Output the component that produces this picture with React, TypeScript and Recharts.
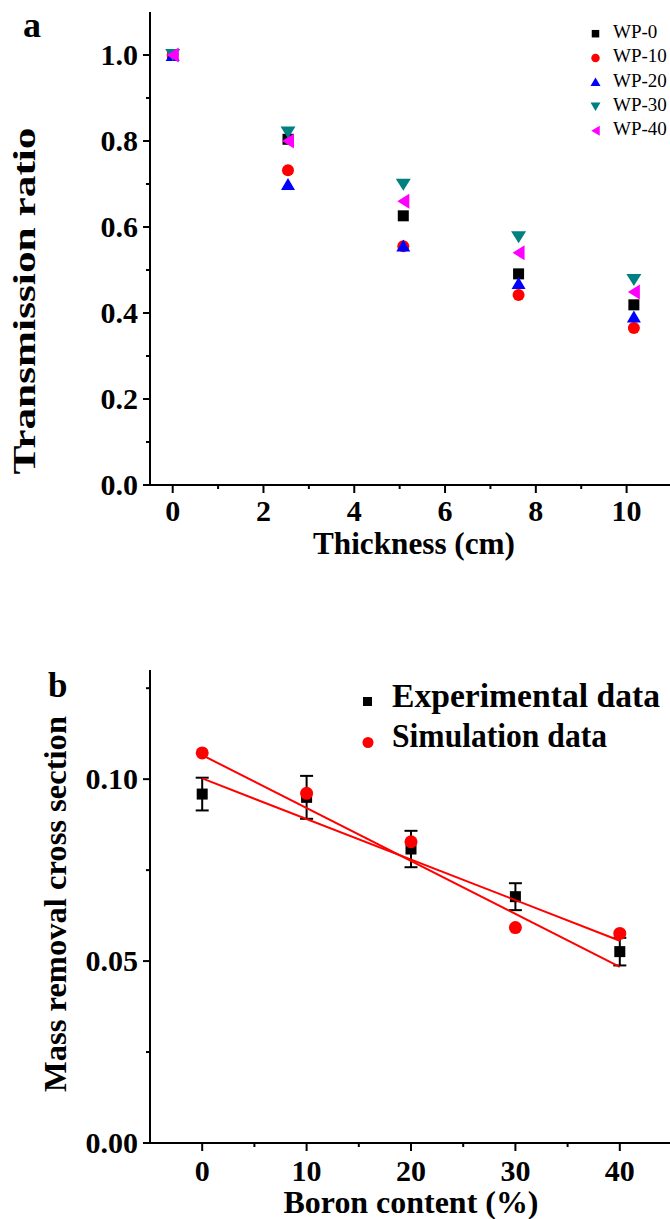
import React from 'react';
import { ComposedChart, Scatter, XAxis, YAxis, ErrorBar } from 'recharts';

// ---------- Panel a data ----------
const thickness = [0, 2.54, 5.08, 7.62, 10.16];
const wp0 = [1.0, 0.804, 0.626, 0.491, 0.419];
const wp10 = [1.0, 0.732, 0.555, 0.442, 0.365];
const wp20 = [1.0, 0.7, 0.557, 0.47, 0.392];
const wp30 = [1.0, 0.82, 0.698, 0.576, 0.477];
const wp40 = [1.0, 0.8, 0.66, 0.54, 0.449];
const seriesNamesA = ['WP-0', 'WP-10', 'WP-20', 'WP-30', 'WP-40'];

const xTicksA = [0, 1, 2, 3, 4, 5, 6, 7, 8, 9, 10];
const xMajorA = [0, 2, 4, 6, 8, 10];
const yTicksA = [0, 0.1, 0.2, 0.3, 0.4, 0.5, 0.6, 0.7, 0.8, 0.9, 1.0];
const yMajorA = [0, 0.2, 0.4, 0.6, 0.8, 1.0];

// ---------- Panel b data ----------
const boron = [0, 10, 20, 30, 40];
const expValues = [0.0959, 0.095, 0.0808, 0.0677, 0.0526];
const expErrors = [0.0045, 0.0059, 0.005, 0.0037, 0.0038];
const simValues = [0.1072, 0.0961, 0.0828, 0.0592, 0.0576];
const fitX = [0, 40];
const expFit = [0.1002, 0.0556];
const simFit = [0.1066, 0.0484];
const seriesNamesB = ['Experimental data', 'Simulation data'];

const xTicksB = [0, 5, 10, 15, 20, 25, 30, 35, 40];
const xMajorB = [0, 10, 20, 30, 40];
const yTicksB = [0, 0.025, 0.05, 0.075, 0.1, 0.125];
const yMajorB = [0, 0.05, 0.1];

const FONT = "'Liberation Serif', 'Times New Roman', serif";

const toXY = (xs: number[], ys: number[]) => xs.map((x, i) => ({ x, y: ys[i] }));
const isMajor = (v: number, list: number[]) => list.some((m) => Math.abs(m - v) < 1e-9);

// ---------- marker shapes ----------
const squareShape = (size: number, color: string) => (p: any) => (
  <rect x={p.cx - size / 2} y={p.cy - size / 2} width={size} height={size} fill={color} />
);
const circleShape = (d: number, color: string) => (p: any) => (
  <circle cx={p.cx} cy={p.cy} r={d / 2} fill={color} />
);
const triUpShape = (w: number, h: number, color: string) => (p: any) => (
  <polygon
    points={`${p.cx},${p.cy - h / 2} ${p.cx - w / 2},${p.cy + h / 2} ${p.cx + w / 2},${p.cy + h / 2}`}
    fill={color}
  />
);
const triDownShape = (w: number, h: number, color: string) => (p: any) => (
  <polygon
    points={`${p.cx - w / 2},${p.cy - h / 2} ${p.cx + w / 2},${p.cy - h / 2} ${p.cx},${p.cy + h / 2}`}
    fill={color}
  />
);
const triLeftShape = (w: number, h: number, color: string) => (p: any) => (
  <polygon
    points={`${p.cx - w / 2},${p.cy} ${p.cx + w / 2},${p.cy - h / 2} ${p.cx + w / 2},${p.cy + h / 2}`}
    fill={color}
  />
);
const noShape = () => <g />;

// ---------- ticks ----------
const makeXTick = (majors: number[], fmt: (v: number) => string, labelDy: number) => (p: any) => {
  const v = p.payload.value;
  const major = isMajor(v, majors);
  return (
    <g>
      <line x1={p.x} y1={p.y} x2={p.x} y2={p.y + (major ? 8 : 4)} stroke="#000" strokeWidth={2} />
      {major && (
        <text x={p.x} y={p.y + labelDy} textAnchor="middle" fontFamily={FONT} fontWeight="bold" fontSize={30} fill="#000">
          {fmt(v)}
        </text>
      )}
    </g>
  );
};
const makeYTick = (majors: number[], fmt: (v: number) => string) => (p: any) => {
  const v = p.payload.value;
  const major = isMajor(v, majors);
  return (
    <g>
      <line x1={p.x} y1={p.y} x2={p.x - (major ? 7 : 4)} y2={p.y} stroke="#000" strokeWidth={2} />
      {major && (
        <text x={p.x - 12} y={p.y + 9.5} textAnchor="end" fontFamily={FONT} fontWeight="bold" fontSize={30} fill="#000">
          {fmt(v)}
        </text>
      )}
    </g>
  );
};

const axisLineStyle = { stroke: '#000', strokeWidth: 2 };

const colorsA = ['#000000', '#ff0000', '#0000ff', '#008080', '#ff00ff'];

function PanelA() {
  const series = [wp0, wp10, wp20, wp30, wp40];
  const shapes = [
    squareShape(11, colorsA[0]),
    circleShape(12, colorsA[1]),
    triUpShape(14, 12, colorsA[2]),
    triDownShape(15, 12, colorsA[3]),
    triLeftShape(12, 15, colorsA[4]),
  ];
  return (
    <ComposedChart width={680} height={560} margin={{ top: 12, right: 8, bottom: 0, left: 0 }}>
      <XAxis
        type="number"
        dataKey="x"
        domain={[-0.5, 11]}
        ticks={xTicksA}
        interval={0}
        tickSize={0}
        tickMargin={0}
        tickLine={false}
        axisLine={axisLineStyle}
        height={75}
        allowDataOverflow
        tick={makeXTick(xMajorA, (v) => String(v), 36)}
      />
      <XAxis xAxisId="top" orientation="top" type="number" domain={[-0.5, 11]} height={0} tick={false} tickLine={false} axisLine={axisLineStyle} />
      <YAxis
        type="number"
        dataKey="y"
        domain={[0, 1.1]}
        ticks={yTicksA}
        interval={0}
        tickSize={0}
        tickMargin={0}
        tickLine={false}
        axisLine={axisLineStyle}
        width={150}
        allowDataOverflow
        tick={makeYTick(yMajorA, (v) => v.toFixed(1))}
      />
      {series.map((s, i) => (
        <Scatter
          key={seriesNamesA[i]}
          name={seriesNamesA[i]}
          data={toXY(thickness, s)}
          fill={colorsA[i]}
          shape={shapes[i]}
          isAnimationActive={false}
        />
      ))}
    </ComposedChart>
  );
}

function PanelB() {
  const expData = boron.map((x, i) => ({ x, y: expValues[i], err: expErrors[i] }));
  return (
    <ComposedChart width={680} height={579} margin={{ top: 30, right: 8, bottom: 0, left: 0 }}>
      <XAxis
        type="number"
        dataKey="x"
        domain={[-5, 45]}
        ticks={xTicksB}
        interval={0}
        tickSize={0}
        tickMargin={0}
        tickLine={false}
        axisLine={axisLineStyle}
        height={76}
        allowDataOverflow
        tick={makeXTick(xMajorB, (v) => String(v), 38)}
      />
      <XAxis xAxisId="top" orientation="top" type="number" domain={[-5, 45]} height={0} tick={false} tickLine={false} axisLine={axisLineStyle} />
      <YAxis
        type="number"
        dataKey="y"
        domain={[0, 0.13]}
        ticks={yTicksB}
        interval={0}
        tickSize={0}
        tickMargin={0}
        tickLine={false}
        axisLine={axisLineStyle}
        width={150}
        allowDataOverflow
        tick={makeYTick(yMajorB, (v) => v.toFixed(2))}
      />
      <Scatter name={seriesNamesB[0]} data={expData} fill="#000" shape={squareShape(11, '#000')} isAnimationActive={false}>
        <ErrorBar dataKey="err" direction="y" width={6.5} stroke="#000" strokeWidth={2} isAnimationActive={false} />
      </Scatter>
      <Scatter name={seriesNamesB[1]} data={toXY(boron, simValues)} fill="#ff0000" shape={circleShape(13, '#ff0000')} isAnimationActive={false} />
      <Scatter
        name="exp fit"
        data={toXY(fitX, expFit)}
        fill="none"
        line={{ stroke: '#ff0000', strokeWidth: 2 }}
        shape={noShape}
        legendType="none"
        isAnimationActive={false}
      />
      <Scatter
        name="sim fit"
        data={toXY(fitX, simFit)}
        fill="none"
        line={{ stroke: '#ff0000', strokeWidth: 2 }}
        shape={noShape}
        legendType="none"
        isAnimationActive={false}
      />
    </ComposedChart>
  );
}

function Overlay() {
  const legA = [
    { cy: 33.7, base: 38 },
    { cy: 58, base: 62.3 },
    { cy: 81.8, base: 86.6 },
    { cy: 106.8, base: 110.9 },
    { cy: 130.7, base: 135.2 },
  ];
  const legShapes = [
    squareShape(7.5, colorsA[0]),
    circleShape(8.5, colorsA[1]),
    triUpShape(10, 8.5, colorsA[2]),
    triDownShape(10, 8.5, colorsA[3]),
    triLeftShape(8.5, 10, colorsA[4]),
  ];
  const txt = { fontFamily: FONT, fill: '#000' };
  return (
    <svg width={670} height={1219} style={{ position: 'absolute', left: 0, top: 0, pointerEvents: 'none' }}>
      {/* panel labels */}
      <text x={23} y={37} fontSize={36} fontWeight="bold" {...txt}>a</text>
      <text x={48} y={697} fontSize={35} fontWeight="bold" {...txt}>b</text>

      {/* panel a axis titles */}
      <text
        x={35}
        y={301}
        transform="rotate(-90 35 301)"
        textAnchor="middle"
        fontSize={32}
        fontWeight="bold"
        textLength={347}
        lengthAdjust="spacingAndGlyphs"
        {...txt}
      >
        Transmission ratio
      </text>
      <text x={414} y={554} textAnchor="middle" fontSize={31} fontWeight="bold" textLength={202} lengthAdjust="spacingAndGlyphs" {...txt}>
        Thickness (cm)
      </text>

      {/* panel a legend */}
      {legA.map((l, i) => (
        <g key={seriesNamesA[i]}>
          {legShapes[i]({ cx: 595.5, cy: l.cy })}
          <text x={613} y={l.base} fontSize={19} {...txt}>{seriesNamesA[i]}</text>
        </g>
      ))}

      {/* panel b axis titles */}
      <text
        x={66}
        y={904}
        transform="rotate(-90 66 904)"
        textAnchor="middle"
        fontSize={32}
        fontWeight="bold"
        textLength={376}
        lengthAdjust="spacingAndGlyphs"
        {...txt}
      >
        Mass removal cross section
      </text>
      <text x={411} y={1213} textAnchor="middle" fontSize={31} fontWeight="bold" textLength={255} lengthAdjust="spacingAndGlyphs" {...txt}>
        Boron content (%)
      </text>

      {/* panel b legend */}
      {squareShape(9, '#000')({ cx: 367.5, cy: 701.5 })}
      <text x={392} y={706.7} fontSize={33} fontWeight="bold" textLength={268} lengthAdjust="spacingAndGlyphs" {...txt}>
        {seriesNamesB[0]}
      </text>
      {circleShape(11, '#ff0000')({ cx: 368, cy: 742.5 })}
      <text x={392} y={746.7} fontSize={33} fontWeight="bold" textLength={215} lengthAdjust="spacingAndGlyphs" {...txt}>
        {seriesNamesB[1]}
      </text>
    </svg>
  );
}

export default function App() {
  return (
    <div style={{ position: 'absolute', left: 0, top: 0, width: 670, height: 1219, overflow: 'hidden', background: '#fff' }}>
      <div style={{ position: 'absolute', left: 0, top: 0 }}>
        <PanelA />
      </div>
      <div style={{ position: 'absolute', left: 0, top: 640 }}>
        <PanelB />
      </div>
      <Overlay />
    </div>
  );
}
